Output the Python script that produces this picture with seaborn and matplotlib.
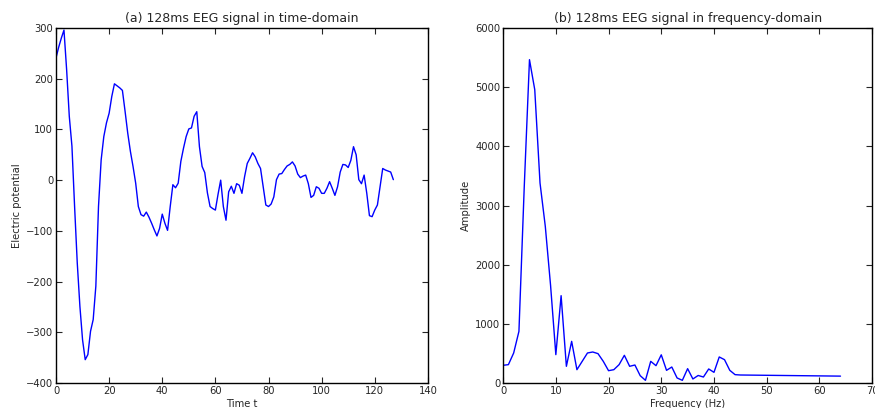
import matplotlib
matplotlib.use("Agg")
import matplotlib.pyplot as plt
import numpy as np
import pandas as pd
import seaborn as sns

# 128 ms EEG segment (one sample per ms)
time_t = list(range(128))
potential = [
    241, 262, 280, 296, 218, 126, 67, -52, -163, -249,
    -315, -354, -344, -298, -275, -209, -52, 40, 86, 113,
    132, 165, 190, 186, 182, 177, 136, 93, 57, 27,
    -6, -52, -68, -71, -63, -73, -85, -98, -110, -95,
    -67, -85, -99, -52, -9, -15, -6, 37, 63, 86,
    101, 103, 126, 135, 66, 27, 15, -25, -52, -56,
    -59, -28, 0, -52, -79, -23, -12, -26, -7, -10,
    -26, 7, 33, 43, 54, 46, 33, 23, -13, -49,
    -52, -47, -33, 1, 12, 13, 21, 28, 31, 36,
    28, 12, 5, 8, 10, -7, -34, -30, -13, -16,
    -26, -26, -16, -3, -16, -30, -13, 16, 31, 30,
    25, 39, 66, 50, 1, -7, 10, -26, -70, -72,
    -59, -49, -13, 23, 20, 18, 16, 1,
]

# One-sided amplitude spectrum, 0..64 Hz
frequency_hz = list(range(65))
amplitude = [
    299, 310, 507, 873, 3300, 5465, 4958, 3380, 2648, 1650,
    479, 1476, 282, 704, 225, 366, 507, 524, 496, 366,
    208, 225, 310, 468, 282, 304, 124, 45, 366, 293,
    476, 214, 270, 85, 45, 242, 68, 127, 101, 237,
    180, 440, 394, 214, 141, 135, 134, 133, 132, 131,
    130, 129, 128, 127, 126, 125, 124, 123, 122, 121,
    120, 119, 118, 117, 116,
]

time_df = pd.DataFrame({"Time t": time_t, "Electric potential": potential})
freq_df = pd.DataFrame({"Frequency (Hz)": frequency_hz, "Amplitude": amplitude})

sns.set_style("ticks", {"xtick.direction": "in", "ytick.direction": "in",
                        "axes.edgecolor": "black"})
plt.rcParams["font.family"] = ["DejaVu Sans"]

fig = plt.figure(figsize=(8.75, 4.08), dpi=100)
ax1 = fig.add_axes([0.064, 0.0613, 0.425, 0.870])
ax2 = fig.add_axes([0.575, 0.0613, 0.4217, 0.870])

sns.lineplot(data=time_df, x="Time t", y="Electric potential", ax=ax1,
             color="#0000ff", linewidth=1.0)
sns.lineplot(data=freq_df, x="Frequency (Hz)", y="Amplitude", ax=ax2,
             color="#0000ff", linewidth=1.0)

ax1.set_xlim(0, 140)
ax1.set_ylim(-400, 300)
ax1.set_xticks(range(0, 141, 20))
ax1.set_yticks(range(-400, 301, 100))
ax1.set_title("(a) 128ms EEG signal in time-domain", fontsize=9, pad=4)

ax2.set_xlim(0, 70)
ax2.set_ylim(0, 6000)
ax2.set_xticks(range(0, 71, 10))
ax2.set_yticks(range(0, 6001, 1000))
ax2.set_title("(b) 128ms EEG signal in frequency-domain", fontsize=9, pad=4)

for ax in (ax1, ax2):
    ax.tick_params(axis="both", which="major", direction="in", length=4,
                   width=0.8, labelsize=7.2, top=True, right=True, pad=2)
    ax.xaxis.label.set_size(7.2)
    ax.yaxis.label.set_size(7.2)
    ax.xaxis.labelpad = 2
    ax.yaxis.labelpad = 3
    for side in ax.spines.values():
        side.set_visible(True)
        side.set_linewidth(1.0)
        side.set_color("black")

fig.savefig("out.png", dpi=100)
